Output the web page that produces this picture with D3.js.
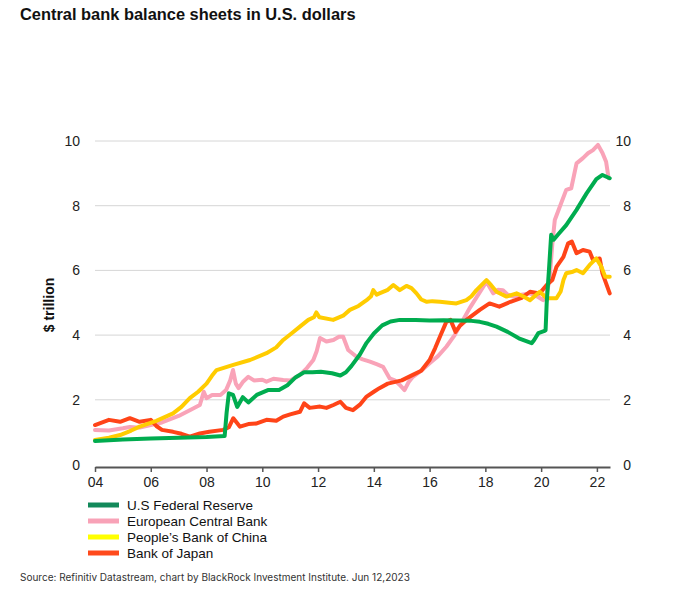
<!DOCTYPE html>
<html><head><meta charset="utf-8">
<script src="https://cdn.jsdelivr.net/npm/d3@7"></script>
<style>
body{margin:0;background:#fff;}
svg{display:block;font-family:"Liberation Sans",Arial,sans-serif;}
</style></head>
<body><svg id="c" width="695" height="593"></svg>
<script>
const title = "Central bank balance sheets in U.S. dollars";
const source = "Source: Refinitiv Datastream, chart by BlackRock Investment Institute. Jun 12,2023";
const yTitle = "$ trillion";
const xTickYears = [2004,2006,2008,2010,2012,2014,2016,2018,2020,2022];
const xTickLabels = ["04","06","08","10","12","14","16","18","20","22"];
const yTicks = [0,2,4,6,8,10];
const seriesNames = ["U.S Federal Reserve","European Central Bank","People\u2019s Bank of China","Bank of Japan"];

const fedDates = [2004.0,2005.0,2006.0,2007.0,2008.0,2008.65,2008.72,2008.8,2008.95,2009.1,2009.3,2009.5,2009.8,2010.2,2010.6,2010.9,2011.2,2011.5,2011.8,2012.1,2012.5,2012.8,2013.0,2013.2,2013.5,2013.74,2014.0,2014.3,2014.6,2014.93,2015.5,2016.0,2016.5,2017.0,2017.5,2017.8,2018.1,2018.4,2018.8,2019.2,2019.66,2019.75,2019.9,2020.1,2020.16,2020.2,2020.28,2020.36,2020.45,2020.6,2020.9,2021.27,2021.63,2021.98,2022.2,2022.46];
const fedValues = [0.73,0.77,0.8,0.83,0.85,0.88,1.6,2.2,2.15,1.78,2.08,1.92,2.15,2.3,2.3,2.45,2.7,2.85,2.85,2.87,2.82,2.75,2.85,3.05,3.4,3.76,4.05,4.3,4.42,4.47,4.47,4.45,4.46,4.45,4.44,4.41,4.35,4.26,4.1,3.9,3.75,3.85,4.06,4.12,4.15,5.0,6.0,7.1,6.95,7.1,7.4,7.87,8.38,8.82,8.95,8.85];

const ecbDates = [2004.0,2004.5,2005.0,2005.25,2005.6,2006.0,2006.4,2006.7,2007.0,2007.4,2007.76,2007.9,2008.0,2008.2,2008.5,2008.7,2008.85,2008.95,2009.05,2009.15,2009.3,2009.5,2009.7,2010.0,2010.15,2010.4,2010.75,2011.0,2011.35,2011.6,2011.83,2011.95,2012.07,2012.3,2012.55,2012.75,2012.9,2013.08,2013.38,2013.6,2013.86,2014.1,2014.33,2014.57,2014.75,2014.93,2015.1,2015.25,2015.4,2015.7,2016.0,2016.3,2016.6,2016.9,2017.2,2017.45,2017.7,2018.04,2018.28,2018.45,2018.63,2018.8,2019.0,2019.3,2019.6,2019.85,2020.07,2020.2,2020.3,2020.4,2020.49,2020.67,2020.9,2021.08,2021.27,2021.5,2021.68,2021.86,2022.04,2022.2,2022.33,2022.42];
const ecbValues = [1.07,1.05,1.12,1.16,1.14,1.22,1.3,1.4,1.5,1.68,1.84,2.25,2.05,2.15,2.15,2.3,2.6,2.92,2.5,2.36,2.55,2.71,2.6,2.62,2.56,2.65,2.61,2.6,2.77,2.98,3.23,3.5,3.91,3.8,3.85,3.95,3.95,3.54,3.33,3.25,3.18,3.1,3.02,2.66,2.6,2.46,2.3,2.55,2.71,2.9,3.13,3.35,3.64,4.0,4.47,4.85,5.19,5.65,5.29,5.4,5.39,5.25,5.19,5.25,5.29,5.2,5.08,5.3,5.7,6.8,7.56,7.97,8.49,8.54,9.31,9.47,9.62,9.72,9.88,9.63,9.36,8.85];

const pbocDates = [2004.0,2004.5,2004.9,2005.3,2005.6,2006.2,2006.8,2007.1,2007.4,2007.7,2008.0,2008.2,2008.36,2008.96,2009.56,2010.15,2010.5,2010.75,2011.0,2011.35,2011.65,2011.85,2011.94,2012.05,2012.54,2012.9,2013.14,2013.45,2013.74,2013.9,2013.98,2014.1,2014.2,2014.5,2014.7,2014.93,2015.17,2015.35,2015.53,2015.7,2015.9,2016.1,2016.37,2016.7,2016.96,2017.32,2017.5,2017.68,2018.04,2018.2,2018.4,2018.76,2019.12,2019.35,2019.6,2019.95,2020.2,2020.55,2020.7,2020.8,2020.9,2021.14,2021.27,2021.5,2021.74,2021.98,2022.16,2022.3,2022.46];
const pbocValues = [0.76,0.83,0.91,1.05,1.17,1.35,1.58,1.78,2.05,2.25,2.5,2.75,2.92,3.08,3.23,3.44,3.62,3.85,4.02,4.26,4.47,4.55,4.7,4.55,4.47,4.6,4.78,4.9,5.08,5.2,5.39,5.25,5.29,5.4,5.55,5.39,5.52,5.45,5.29,5.1,5.03,5.05,5.03,5.0,4.98,5.08,5.2,5.39,5.7,5.55,5.34,5.19,5.29,5.2,5.08,5.34,5.14,5.14,5.35,5.7,5.91,5.96,6.01,5.91,6.17,6.37,6.11,5.8,5.8];

const bojDates = [2004.0,2004.5,2004.9,2005.25,2005.6,2006.0,2006.2,2006.4,2006.8,2007.1,2007.4,2007.76,2008.1,2008.6,2008.8,2008.96,2009.2,2009.5,2009.8,2010.15,2010.5,2010.75,2011.0,2011.35,2011.5,2011.7,2012.07,2012.3,2012.55,2012.8,2013.0,2013.25,2013.5,2013.74,2014.0,2014.2,2014.5,2015.0,2015.4,2015.7,2016.0,2016.2,2016.37,2016.6,2016.75,2016.93,2017.1,2017.32,2017.8,2018.15,2018.5,2018.9,2019.3,2019.6,2019.95,2020.2,2020.4,2020.55,2020.8,2020.97,2021.1,2021.27,2021.5,2021.74,2021.86,2022.1,2022.2,2022.33,2022.46];
const bojValues = [1.22,1.38,1.32,1.43,1.32,1.38,1.19,1.07,1.01,0.95,0.86,0.96,1.01,1.07,1.15,1.43,1.17,1.25,1.27,1.38,1.35,1.48,1.55,1.63,1.89,1.75,1.79,1.75,1.84,1.94,1.75,1.68,1.85,2.1,2.25,2.36,2.5,2.6,2.77,2.9,3.23,3.6,3.95,4.41,4.47,4.1,4.3,4.47,4.78,4.98,4.88,5.03,5.15,5.34,5.29,5.55,5.7,6.11,6.42,6.84,6.89,6.53,6.63,6.58,6.32,6.37,5.91,5.6,5.29];

const lineColors = ["#00ac4f","#f9a3b8","#ffcc00","#ff4418"];
const legendColors = ["#12895a","#f8a2b7","#ffff00","#ff4a1c"];

const svg = d3.select("#c");
const x = d3.scaleLinear().domain([2004, 2022.47]).range([95, 610]);
const y = d3.scaleLinear().domain([0, 10]).range([464.5, 141]);

const t = svg.append("text").attr("x", 20).attr("y", 20)
  .attr("font-weight", "bold").attr("font-size", 15).attr("fill", "#111")
  .text(title);
const tw = t.node().getComputedTextLength();
t.attr("font-size", 15 * 336 / tw);

svg.append("g").selectAll("line").data(yTicks.filter(d => d > 0)).join("line")
  .attr("x1", 95).attr("x2", 610)
  .attr("y1", d => y(d)).attr("y2", d => y(d))
  .attr("stroke", "#d6d6d6").attr("stroke-width", 1);

const yl = svg.append("g").attr("font-size", 14).attr("fill", "#222");
yl.selectAll(".l").data(yTicks).join("text").attr("class","l")
  .attr("x", 80).attr("y", d => y(d) + 5).attr("text-anchor", "end").text(d => d);
yl.selectAll(".r").data(yTicks).join("text").attr("class","r")
  .attr("x", 631).attr("y", d => y(d) + 5).attr("text-anchor", "end").text(d => d);

svg.append("text").attr("transform", "translate(54,305) rotate(-90)")
  .attr("text-anchor", "middle").attr("font-weight", "bold").attr("font-size", 14)
  .attr("fill", "#111").text(yTitle);

const xAxis = d3.axisBottom(x).tickValues(xTickYears)
  .tickFormat((d, i) => xTickLabels[i]).tickSize(5).tickSizeOuter(0).tickPadding(5);
const gx = svg.append("g").attr("transform", "translate(0,467)").call(xAxis);
gx.select(".domain").attr("stroke", "#555").attr("stroke-width", 2);
gx.selectAll(".tick line").attr("stroke", "#555").attr("stroke-width", 1.5);
gx.selectAll(".tick text").attr("font-size", 14).attr("fill", "#222")
  .attr("font-family", "Liberation Sans, Arial, sans-serif");

const series = [
  {d: fedDates, v: fedValues, c: lineColors[0]},
  {d: ecbDates, v: ecbValues, c: lineColors[1]},
  {d: pbocDates, v: pbocValues, c: lineColors[2]},
  {d: bojDates, v: bojValues, c: lineColors[3]}
];
const line = d3.line().x(p => x(p[0])).y(p => y(p[1]));
const drawOrder = [1, 3, 2, 0];
svg.append("g").selectAll("path").data(drawOrder.map(i => series[i])).join("path")
  .attr("d", s => line(s.d.map((dd, i) => [dd, s.v[i]])))
  .attr("fill", "none").attr("stroke", s => s.c).attr("stroke-width", 4)
  .attr("stroke-linejoin", "round").attr("stroke-linecap", "round");

const lg = svg.append("g");
seriesNames.forEach((n, i) => {
  const yy = 505 + i * 16;
  lg.append("line").attr("x1", 88).attr("x2", 119).attr("y1", yy).attr("y2", yy)
    .attr("stroke", legendColors[i]).attr("stroke-width", 5);
  lg.append("text").attr("x", 127).attr("y", yy + 5).attr("font-size", 13.5)
    .attr("fill", "#111").text(n);
});

svg.append("text").attr("x", 20).attr("y", 581).attr("font-size", 10)
  .attr("fill", "#333").attr("font-family", "Inter, 'Open Sans', sans-serif").text(source);
</script>
</body></html>
